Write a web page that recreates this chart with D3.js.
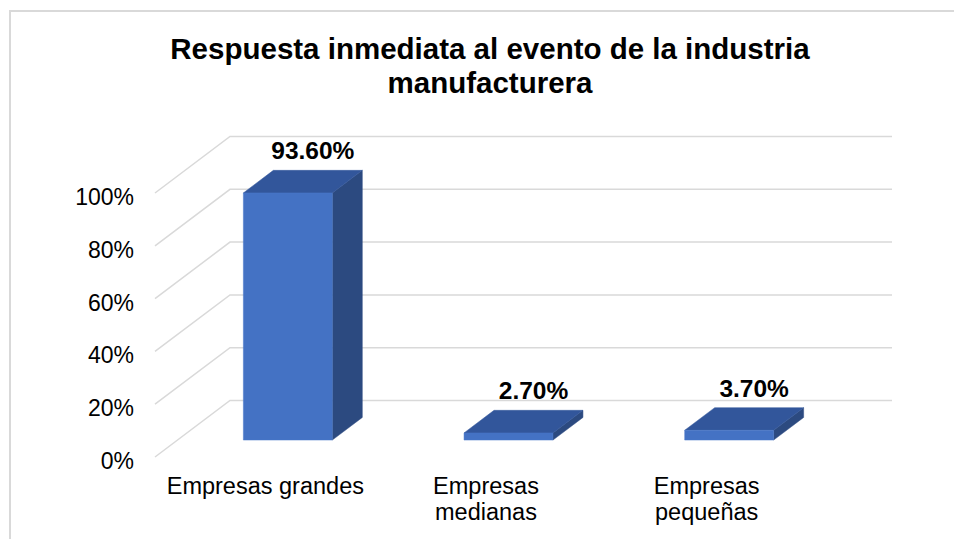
<!DOCTYPE html>
<html lang="es">
<head>
<meta charset="UTF-8">
<title>Respuesta inmediata</title>
<script src="https://d3js.org/d3.v7.min.js"></script>
<style>
  body { margin: 0; background: #fff; font-family: Arial, "Liberation Sans", sans-serif; }
  .grid { fill: none; stroke: #d9d9d9; stroke-width: 1.5; }
  .tick-label { font-size: 23px; fill: #000; }
  .cat-label { font-size: 23.5px; fill: #000; }
  .val-label { font-size: 24.5px; font-weight: bold; fill: #000; }
</style>
</head>
<body>
<div id="chart"></div>
<script>
const categories = ["Empresas grandes", "Empresas medianas", "Empresas pequeñas"];
const categoryLines = [["Empresas grandes"], ["Empresas", "medianas"], ["Empresas", "pequeñas"]];
const values = [0.936, 0.027, 0.037];
const valueLabels = ["93.60%", "2.70%", "3.70%"];
const yTicks = [0, 0.2, 0.4, 0.6, 0.8, 1.0];
const titleLines = ["Respuesta inmediata al evento de la industria", "manufacturera"];

const W = 954, H = 539;
const DX = 75, DY = -56.5;           // full depth offset of the 3d floor
const barFront = 0.3, barBack = 0.7; // depth of the bars

const svg = d3.select("#chart").append("svg")
  .attr("width", W).attr("height", H);

// outer frame
svg.append("path")
  .attr("d", `M10,${H} L10,11 L${W},11`)
  .attr("fill", "none").attr("stroke", "#d9d9d9").attr("stroke-width", 2);

// title
svg.append("g").selectAll("text")
  .data(titleLines).enter().append("text")
  .attr("x", 490)
  .attr("y", (d, i) => 59 + i * 34)
  .attr("text-anchor", "middle")
  .style("font-size", "29.5px").style("font-weight", "bold")
  .text(d => d);

const x = d3.scaleBand().domain(categories).range([155, 817]);
const y = d3.scaleLinear().domain([0, 1]).range([457, 193]);

const proj = (px, v, d) => [px + d * DX, y(v) + d * DY];

// gridlines: diagonal on the left side wall + horizontal on the back wall
svg.append("g").selectAll("path")
  .data(yTicks).enter().append("path")
  .attr("class", "grid")
  .attr("d", t => d3.line()([proj(x.range()[0], t, 0), proj(x.range()[0], t, 1), proj(x.range()[1], t, 1)]));

// y axis labels
svg.append("g").selectAll("text")
  .data(yTicks).enter().append("text")
  .attr("class", "tick-label")
  .attr("x", 134)
  .attr("y", t => y(t) + 4)
  .attr("dy", "0.35em")
  .attr("text-anchor", "end")
  .text(d3.format(".0%"));

const barW = x.bandwidth() * 0.403;

const bars = svg.append("g").selectAll("g")
  .data(categories.map((c, i) => ({ c, v: values[i], label: valueLabels[i] })))
  .enter().append("g");

const poly = pts => "M" + pts.map(p => p.join(",")).join("L") + "Z";
const x0 = d => x(d.c) + (x.bandwidth() - barW) / 2;
const x1 = d => x0(d) + barW;

// side face
bars.append("path")
  .attr("fill", "#2c4a80").attr("stroke", "#2c4a80").attr("stroke-width", 0.5)
  .attr("d", d => poly([proj(x1(d), 0, barFront), proj(x1(d), d.v, barFront), proj(x1(d), d.v, barBack), proj(x1(d), 0, barBack)]));

// top face
bars.append("path")
  .attr("fill", "#32569b").attr("stroke", "#32569b").attr("stroke-width", 0.5)
  .attr("d", d => poly([proj(x0(d), d.v, barFront), proj(x1(d), d.v, barFront), proj(x1(d), d.v, barBack), proj(x0(d), d.v, barBack)]));

// front face
bars.append("path")
  .attr("fill", "#4472c4").attr("stroke", "#4a78c8").attr("stroke-width", 0.5)
  .attr("d", d => poly([proj(x0(d), 0, barFront), proj(x1(d), 0, barFront), proj(x1(d), d.v, barFront), proj(x0(d), d.v, barFront)]));

// value labels
bars.append("text")
  .attr("class", "val-label")
  .attr("x", d => proj((x0(d) + x1(d)) / 2, d.v, barFront)[0] + 25)
  .attr("y", d => proj(0, d.v, barBack)[1] - 11)
  .attr("text-anchor", "middle")
  .text(d => d.label);

// category labels
const cats = svg.append("g").selectAll("text")
  .data(categories.map((c, i) => ({ c, lines: categoryLines[i] })))
  .enter().append("text")
  .attr("class", "cat-label")
  .attr("text-anchor", "middle")
  .attr("transform", d => `translate(${x(d.c) + x.bandwidth() / 2},494)`);

cats.selectAll("tspan")
  .data(d => d.lines).enter().append("tspan")
  .attr("x", 0)
  .attr("y", (d, i) => i * 26)
  .text(d => d);
</script>
</body>
</html>
